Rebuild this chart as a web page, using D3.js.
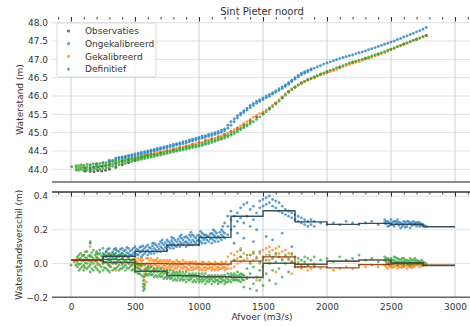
<!DOCTYPE html>
<html><head><meta charset="utf-8">
<script src="https://cdn.jsdelivr.net/npm/d3@7"></script>
<style>
body{margin:0;background:#fff}
svg{display:block}
text{font-family:"DejaVu Sans",sans-serif;fill:#333}
</style>
</head><body>
<svg id="c" width="470" height="326"></svg>
<script>
// ---------------- DATA ----------------
const titleText = "Sint Pieter noord";
const seriesNames = ["Observaties","Ongekalibreerd","Gekalibreerd","Definitief"];
const seriesColors = ["#333333","#1f77b4","#ff7f0e","#2ca02c"];
const xTicks = [0,500,1000,1500,2000,2500,3000];
const yTicksUp = [44.0,44.5,45.0,45.5,46.0,46.5,47.0,47.5,48.0];
const yTicksLow = [-0.2,0.0,0.2,0.4];
const xLabel = "Afvoer (m3/s)";
const yLabelUp = "Waterstand (m)";
const yLabelLow = "Waterstandsverschil (m)";

// Upper panel: rows [afvoer, waterstand values...]
const obsUp = [[110,43.95,44.03],[150,43.94,44.02],[180,43.93,44.05],[210,43.96,44.06],[240,43.95,44.08],[270,43.97,44.1],[300,44.0,44.12],[350,44.05,44.17],[400,44.12,44.22],[450,44.18,44.26],[500,44.24,44.3],[550,44.34],[600,44.38],[650,44.42],[700,44.46],[750,44.51],[800,44.55],[850,44.59],[900,44.63],[950,44.68],[1000,44.73],[1050,44.78],[1100,44.83],[1150,44.88],[1200,44.95],[1250,45.03],[1300,45.12],[1350,45.22],[1400,45.33],[1450,45.43],[1500,45.53],[1550,45.66],[1600,45.8],[1650,45.96],[1700,46.12],[1750,46.24],[1800,46.35],[1850,46.44],[1900,46.51],[1950,46.59],[2000,46.65],[2100,46.78],[2200,46.91],[2300,47.02],[2400,47.14],[2500,47.27],[2600,47.41],[2700,47.54],[2775,47.65]];

const ongUp = [[150,44.12],[200,44.15],[250,44.18],[300,44.21,44.25],[350,44.26,44.3],[400,44.3,44.34],[450,44.34,44.38],[500,44.37,44.42],[550,44.41,44.46],[600,44.45,44.5],[650,44.5,44.54],[700,44.55,44.59],[750,44.59,44.63],[800,44.63,44.68],[850,44.68,44.72],[900,44.72,44.77],[950,44.77,44.82],[1000,44.82,44.87],[1050,44.87,44.92],[1100,44.92,44.97],[1150,44.98,45.03],[1200,45.05,45.1],[1250,45.2,45.3],[1300,45.4,45.46],[1350,45.55,45.6],[1400,45.68,45.74],[1450,45.8,45.86],[1500,45.9,45.95],[1550,45.99,46.04],[1600,46.1,46.14],[1650,46.2,46.25],[1700,46.32,46.36],[1750,46.46,46.5],[1800,46.58,46.62],[1850,46.66,46.7],[1900,46.76],[1925,46.8],[1950,46.83],[1975,46.87],[2000,46.9],[2025,46.93],[2050,46.96],[2075,46.99],[2100,47.02],[2125,47.05],[2150,47.07],[2175,47.1],[2200,47.12],[2225,47.15],[2250,47.18],[2275,47.2],[2300,47.23],[2325,47.26],[2350,47.29],[2375,47.32],[2400,47.35],[2425,47.38],[2450,47.41],[2475,47.44],[2500,47.47],[2525,47.5],[2550,47.54],[2575,47.57],[2600,47.61],[2625,47.64],[2650,47.68],[2675,47.71],[2700,47.75],[2725,47.78],[2750,47.82],[2775,47.87],
 [325,44.24],[375,44.28,44.32],[425,44.32,44.36],[475,44.36,44.4],[525,44.39,44.44],[575,44.43,44.48],[625,44.48,44.52],[675,44.52,44.57],[725,44.57,44.61],[775,44.61,44.66],[825,44.66,44.7],[875,44.7,44.75],[925,44.75,44.8],[975,44.8,44.85],[1025,44.85,44.9],[1075,44.9,44.95],[1125,44.95,45.0],[1175,45.01,45.07],[1225,45.12,45.2],[1275,45.3,45.38],[1325,45.48,45.53],[1375,45.62,45.67],[1425,45.74,45.8],[1475,45.85,45.9],[1525,45.95,46.0],[1575,46.05,46.09],[1625,46.15,46.2],[1675,46.26,46.3],[1725,46.39,46.43],[1775,46.52,46.56],[1825,46.62,46.66],[1875,46.71,46.74]];

const gekUp = [[100,44.06],[200,44.1],[300,44.15],[400,44.22],[500,44.3],[550,44.35],[600,44.39],[650,44.43],[700,44.47],[750,44.51],[800,44.55],[850,44.59],[900,44.63],[950,44.68],[1000,44.72],[1050,44.77],[1100,44.83],[1150,44.88],[1200,44.95],[1250,45.03],[1300,45.13],[1350,45.25],[1400,45.36],[1450,45.47],[1500,45.57],[1550,45.68],[1600,45.82],[1650,45.98],[1700,46.14],[1750,46.25],[1800,46.34],[1850,46.43],[1900,46.5],[1950,46.57],[2000,46.63],[2050,46.69],[2100,46.76],[2150,46.83],[2200,46.89],[2250,46.94],[2300,47.0],[2350,47.06],[2400,47.12],[2450,47.18],[2500,47.27],[2550,47.34],[2600,47.41],[2650,47.48],[2700,47.55],[2750,47.61],[2775,47.65],
 [525,44.32],[575,44.37],[625,44.41],[675,44.45],[725,44.49],[775,44.53],[825,44.57],[875,44.61],[925,44.65],[975,44.7],[1025,44.74],[1075,44.8],[1125,44.85],[1175,44.91],[1225,44.99],[1275,45.08],[1325,45.19],[1375,45.3],[1425,45.42],[1475,45.52],[1525,45.62],[1575,45.75],[1625,45.9],[1675,46.06],[1725,46.2],[1775,46.3],[1825,46.39],[1875,46.47],[1925,46.54],[1975,46.6],[2025,46.66],[2075,46.72],[2125,46.8],[2175,46.86],[2225,46.92],[2275,46.97],[2325,47.03],[2375,47.09],[2425,47.15],[2475,47.22],[2525,47.3],[2575,47.37],[2625,47.44],[2675,47.51],[2725,47.58]];

const defUp = [[5,44.07],[40,43.98,44.05,44.1],[60,43.97,44.03,44.1],[80,43.99,44.05,44.12],[100,43.96,44.04,44.11],[125,43.98,44.06,44.13],[150,43.97,44.05,44.12],[175,43.99,44.07,44.15],[200,44.0,44.08,44.14],[225,44.01,44.09,44.16],[250,44.02,44.1,44.17],[275,44.04,44.11,44.18],[300,44.06,44.13,44.19],[325,44.08,44.14,44.21],[350,44.1,44.16,44.22],[375,44.12,44.18,44.23],[400,44.14,44.2,44.25],[425,44.16,44.22,44.27],[450,44.19,44.24,44.28],[475,44.21,44.26,44.3],[500,44.23,44.27,44.31],[525,44.25,44.29,44.33],[550,44.27,44.31,44.35],[575,44.29,44.33,44.37],[600,44.31,44.35,44.39],[625,44.33,44.37,44.41],[650,44.35,44.39],[675,44.37,44.41],[700,44.39,44.43],[725,44.41,44.45],[750,44.43,44.47],[775,44.45,44.49],[800,44.47,44.51],[825,44.49,44.53],[850,44.51,44.55],[875,44.53,44.57],[900,44.55,44.59],[925,44.57,44.61],[950,44.59,44.63],[975,44.61,44.65],[1000,44.63,44.67],[1025,44.65,44.7],[1050,44.68,44.72],[1075,44.7,44.75],[1100,44.73,44.78],[1125,44.76,44.8],[1150,44.79,44.83],[1175,44.82,44.86],[1200,44.85,44.9],[1225,44.89,44.93],[1250,44.93,44.97],[1275,44.97,45.02],[1300,45.02,45.07],[1325,45.08,45.12],[1350,45.13,45.17],[1375,45.18,45.22],[1400,45.24,45.28],[1425,45.3],[1450,45.36],[1475,45.43],[1500,45.5],[1525,45.57],[1550,45.64],[1575,45.71],[1600,45.78],[1625,45.86],[1650,45.94],[1675,46.02],[1700,46.1],[1725,46.17],[1750,46.24],[1775,46.3],[1800,46.36],[1825,46.4],[1850,46.44],[1875,46.48],[1900,46.52],[1925,46.56],[1950,46.6],[1975,46.63],[2000,46.67],[2025,46.7],[2050,46.73],[2075,46.77],[2100,46.8],[2125,46.83],[2150,46.87],[2175,46.9],[2200,46.93],[2225,46.95],[2250,46.98],[2275,47.0],[2300,47.03],[2325,47.06],[2350,47.09],[2375,47.12],[2400,47.15],[2425,47.18],[2450,47.21],[2475,47.25],[2500,47.28],[2525,47.31],[2550,47.35],[2575,47.38],[2600,47.42],[2625,47.45],[2650,47.48],[2675,47.52],[2700,47.55],[2725,47.58],[2750,47.62],[2775,47.65]];

// Lower panel: rows [afvoer, verschil values...]
const ongDiff = [[150,0.12],[200,0.06],[225,0.08],[250,0.03,0.06],[275,0.04,0.07],[300,0.03,0.06,0.09],[325,0.04,0.07],[350,0.03,0.06,0.09],[375,0.04,0.07],[400,0.03,0.06,0.09],[425,0.05,0.08],[450,0.04,0.06,0.09],[475,0.05,0.08],[500,0.04,0.07,0.1],[525,0.05,0.08],[550,0.04,0.07,0.1],[575,0.06,0.09],[600,0.05,0.08,0.11],[625,0.06,0.09],[650,0.06,0.09,0.12],[675,0.07,0.1],[700,0.07,0.1,0.13],[725,0.08,0.11],[750,0.08,0.11,0.14],[775,0.09,0.12],[800,0.09,0.12,0.15],[825,0.1,0.13],[850,0.1,0.13,0.16],[875,0.11,0.14],[900,0.1,0.13,0.16],[925,0.11,0.14,0.17],[950,0.11,0.14,0.17],[975,0.12,0.15],[1000,0.11,0.14,0.17],[1025,0.12,0.15,0.18],[1050,0.12,0.15,0.17],[1075,0.13,0.16],[1100,0.12,0.15,0.18],[1125,0.13,0.16,0.19],[1150,0.13,0.16],[1175,0.14,0.17,0.2],[1200,0.15,0.18,0.24],[1225,0.17,0.22,0.28],[1250,0.2,0.26,0.31],[1275,0.22,0.28,0.12],[1300,0.25,0.3,0.18],[1325,0.27,0.33,0.08],[1350,0.24,0.35,0.15],[1375,0.28,0.36],[1400,0.22,0.32,0.05],[1425,0.26,0.34,0.13],[1450,0.3,0.2],[1475,0.33,0.37,0.07],[1500,0.34,0.38],[1525,0.35,0.39,0.16],[1550,0.36,0.4],[1575,0.34,0.38,0.14],[1600,0.33,0.37],[1625,0.31,0.36],[1650,0.3,0.34,0.18],[1675,0.29,0.32],[1700,0.28,0.31],[1725,0.27,0.3,0.1],[1750,0.26,0.29],[1775,0.25,0.28],[1800,0.24,0.27],[1825,0.23,0.26],[1850,0.22,0.25],[1875,0.23,0.26],[1900,0.22,0.25],[1950,0.24],[2000,0.23],[2050,0.24],[2100,0.23],[2150,0.25],[2200,0.24],[2250,0.23],[2300,0.24],[2350,0.25],[2400,0.23],[2450,0.24,0.26],[2475,0.22,0.25],[2500,0.23,0.26],[2525,0.22,0.25],[2550,0.24,0.26],[2575,0.21,0.24],[2600,0.23,0.25],[2625,0.22,0.25],[2650,0.21,0.24],[2675,0.23,0.25],[2700,0.22,0.24],[2725,0.22,0.24],[2750,0.23],[2775,0.22],
 [262,0.045],[287,0.055,0.085],[312,0.05],[337,0.055,0.085],[362,0.045,0.075],[387,0.055,0.085],[412,0.045,0.075],[437,0.065,0.095],[462,0.05,0.075],[487,0.06,0.09],
 [512,0.055,0.085],[537,0.065,0.095],[562,0.05,0.08,0.105],[587,0.07,0.1],[612,0.065,0.095],[637,0.075,0.105,0.12],[662,0.08,0.11],[687,0.085,0.115],[712,0.09,0.12,0.14],[737,0.095,0.125],[762,0.1,0.13],[787,0.105,0.135,0.155],[812,0.105,0.14],[837,0.115,0.145],[862,0.12,0.15,0.17],[887,0.125,0.155],[912,0.12,0.15],[937,0.125,0.16,0.185],[962,0.13,0.16],[987,0.135,0.165],[1012,0.13,0.16,0.19],[1037,0.14,0.17],[1062,0.14,0.165],[1087,0.145,0.175],[1112,0.14,0.17,0.2],[1137,0.15,0.18],[1162,0.15,0.185],[1187,0.16,0.19,0.22],
 [2462,0.235,0.25],[2487,0.24,0.225],[2512,0.245,0.23],[2537,0.235,0.25],[2562,0.225,0.245],[2587,0.235,0.22],[2612,0.24,0.215],[2637,0.235,0.25],[2662,0.225,0.24],[2687,0.24,0.23],[2712,0.23,0.245],[2737,0.235,0.225],[2762,0.225]];

const gekDiff = [[50,0.0,0.03],[100,-0.02,0.02,0.05],[150,0.0,0.04,0.1],[200,-0.01,0.03,0.06],[250,0.01,0.04],[300,-0.02,0.02,0.06],[350,-0.04,0.0,0.04],[400,-0.01,0.03],[450,0.0,0.04],[475,-0.01,0.02],[500,-0.02,0.01,0.03],[525,-0.02,0.0,0.03],[550,-0.02,0.01,0.03],[575,-0.12,-0.1,-0.08,-0.06,-0.03],[590,-0.11,-0.07,-0.04,0.0,0.03],[600,-0.02,0.0,0.03],[625,-0.02,0.0,0.03],[650,-0.03,0.0,0.02],[675,-0.02,0.01,0.03],[700,-0.03,0.0,0.02],[725,-0.03,-0.01,0.02],[750,-0.03,0.0,0.02],[775,-0.03,-0.01,0.02],[800,-0.04,-0.01,0.01],[825,-0.03,-0.01,0.02],[850,-0.04,-0.01,0.01],[875,-0.03,-0.01,0.02],[900,-0.04,-0.02,0.01],[925,-0.04,-0.01,0.01],[950,-0.04,-0.02,0.01],[975,-0.03,-0.01,0.01],[1000,-0.04,-0.02,0.0],[1025,-0.04,-0.01,0.01],[1050,-0.04,-0.02,0.0],[1075,-0.03,-0.01,0.01],[1100,-0.04,-0.02,0.0],[1125,-0.04,-0.01,0.01],[1150,-0.04,-0.02,0.0],[1175,-0.03,-0.01,0.01],[1200,-0.04,-0.02,0.0],[1225,-0.03,-0.01,0.04],[1250,-0.03,0.0,0.06],[1275,-0.02,0.02,0.05],[1300,0.0,0.03,0.07],[1325,0.01,0.04,0.09],[1350,0.02,0.06],[1375,-0.08,0.03],[1400,0.01,0.05],[1425,0.02,0.07],[1450,-0.1,0.04],[1475,0.0,0.06],[1500,0.03,0.08],[1525,0.05,0.09],[1550,0.02,0.07,0.1],[1575,0.04,0.08],[1600,-0.05,0.05,0.09],[1625,0.06,0.1],[1650,0.03,0.07],[1675,0.04,0.08],[1700,0.02,0.06],[1725,-0.06,0.01,0.05],[1750,-0.02,0.0,0.04],[1775,-0.02,0.01],[1800,-0.03,-0.01],[1825,-0.02,0.0],[1850,-0.04,-0.01],[1875,-0.03],[1900,-0.02,0.0],[1950,-0.03],[2000,-0.02],[2050,-0.04],[2100,-0.03],[2150,-0.02],[2200,-0.03],[2250,-0.01],[2300,-0.02],[2350,-0.01],[2400,-0.02],[2450,-0.01],[2475,-0.03,0.0],[2500,-0.02,0.0],[2525,-0.02,0.0],[2550,-0.03,-0.01],[2575,-0.02,0.0],[2600,-0.02,0.0],[2625,-0.03,-0.01],[2650,-0.02,0.0],[2675,-0.02,-0.01],[2700,-0.01,0.0],[2725,-0.02,0.0],[2750,-0.01],[2775,-0.01],
 [512,-0.01,0.015],[537,-0.01,0.02],[562,-0.005,0.02],[612,-0.01,0.015],[637,-0.015,0.015],[662,-0.01,0.02],[687,-0.015,0.01],[712,-0.02,0.01],[737,-0.015,0.01],[762,-0.02,0.01],[787,-0.02,0.005],[812,-0.025,0.005],[837,-0.02,0.01],[862,-0.025,0.0],[887,-0.02,0.005],[912,-0.03,0.0],[937,-0.025,0.005],[962,-0.03,0.0],[987,-0.025,-0.005],[1012,-0.03,0.0],[1037,-0.025,0.005],[1062,-0.03,-0.005],[1087,-0.025,0.0],[1112,-0.03,-0.005],[1137,-0.025,0.0],[1162,-0.03,-0.005],[1187,-0.025,0.0],[1212,-0.03,0.01],
 [2462,-0.02,-0.005],[2487,-0.015,0.005],[2512,-0.01,-0.025],[2537,-0.015,0.005],[2562,-0.02,-0.005],[2587,-0.01,-0.025],[2612,-0.015,0.005],[2637,-0.02,-0.005],[2662,-0.01,-0.025],[2687,-0.015,0.0],[2712,-0.01],[2737,-0.015],[2762,-0.01]];

const defDiff = [[0,-0.01],[25,0.01],[50,-0.02,0.01,0.04],[75,-0.03,0.0,0.03,0.06],[100,-0.04,-0.01,0.02,0.05],[125,-0.03,0.0,0.03,0.07],[150,-0.05,-0.01,0.02,0.05,0.13],[175,-0.04,0.0,0.03,0.08],[200,-0.03,0.01,0.04,0.07],[225,-0.05,-0.01,0.02,0.06],[250,-0.04,0.0,0.03,0.09],[275,-0.03,0.01,0.04,0.07],[300,-0.05,-0.01,0.02,0.05],[325,-0.04,0.0,0.03,0.06],[350,-0.03,0.0,0.03,0.08],[375,-0.04,-0.01,0.02,0.05],[400,-0.03,0.0,0.03,0.06],[425,-0.04,-0.01,0.02,0.05],[450,-0.03,0.0,0.03],[475,-0.04,-0.01,0.02],[500,-0.05,-0.02,0.01],[525,-0.06,-0.03,0.0],[550,-0.07,-0.04,-0.01],[565,-0.16,-0.14,-0.12,-0.1,-0.08],[575,-0.15,-0.13,-0.07,-0.04,-0.01],[600,-0.07,-0.04,-0.02],[625,-0.07,-0.05,-0.02],[650,-0.08,-0.05,-0.03],[675,-0.08,-0.05,-0.03],[700,-0.08,-0.06,-0.03],[725,-0.09,-0.06,-0.04],[750,-0.09,-0.06,-0.04],[775,-0.09,-0.07,-0.04],[800,-0.1,-0.07,-0.05],[825,-0.1,-0.07,-0.05],[850,-0.1,-0.07,-0.05],[875,-0.1,-0.08,-0.05],[900,-0.11,-0.08,-0.05],[925,-0.1,-0.08,-0.06],[950,-0.11,-0.08,-0.06],[975,-0.11,-0.08,-0.06],[1000,-0.11,-0.09,-0.06],[1025,-0.11,-0.09,-0.06],[1050,-0.12,-0.09,-0.06],[1075,-0.11,-0.09,-0.07],[1100,-0.12,-0.09,-0.07],[1125,-0.11,-0.09,-0.07],[1150,-0.12,-0.1,-0.07],[1175,-0.11,-0.09,-0.07],[1200,-0.12,-0.1,-0.07],[1225,-0.11,-0.09,-0.06],[1250,-0.11,-0.08,-0.06],[1275,-0.1,-0.08,-0.06,0.02],[1300,-0.1,-0.08,-0.05],[1325,-0.11,-0.08,-0.06,0.04],[1350,-0.14,-0.1,-0.07],[1375,-0.09,-0.03,0.05],[1400,-0.15,-0.06,0.0],[1425,-0.12,-0.02,0.06],[1450,-0.16,-0.08,0.03],[1475,-0.1,-0.04,0.01],[1500,-0.13,-0.02,0.04],[1525,-0.06,0.02],[1550,-0.1,0.0,0.05],[1575,-0.04,0.03],[1600,-0.12,0.01,0.06],[1625,-0.03,0.04],[1650,-0.08,0.02],[1675,0.0,0.05],[1700,-0.05,0.03],[1725,0.01,0.06],[1750,-0.02,0.04],[1775,0.0,0.03],[1800,-0.02,0.02],[1825,0.01,0.04],[1850,-0.01,0.03],[1875,0.02],[1900,-0.01,0.04],[1950,0.02],[2000,0.03],[2050,0.01],[2100,0.04],[2150,0.02],[2200,0.03],[2250,0.05],[2300,0.02],[2350,0.03],[2400,0.01],[2450,0.02,0.04],[2475,0.0,0.03],[2500,0.01,0.03],[2525,0.0,0.02,0.04],[2550,-0.01,0.01,0.03],[2575,0.0,0.02],[2600,-0.01,0.01,0.03],[2625,0.0,0.02],[2650,-0.01,0.01,0.03],[2675,0.0,0.02],[2700,0.0,0.02],[2725,0.0,0.01],[2750,-0.01,0.01],[2775,0.0],
 [37,-0.01,0.02],[62,-0.04,-0.005,0.025,0.05],[87,-0.02,0.015,0.045],[112,-0.025,0.005,0.035,0.07],[137,-0.02,0.015,0.045],[162,-0.03,0.01,0.04,0.065],[187,-0.02,0.015,0.05],[212,-0.04,0.0,0.03,0.055],[237,-0.02,0.015,0.045],[262,-0.025,0.01,0.055],[287,-0.04,-0.005,0.025],[312,-0.02,0.015,0.045],[337,-0.03,0.01,0.05],[362,-0.02,0.015,0.04],[387,-0.03,0.01,0.045],[412,-0.02,0.015,0.04],[437,-0.025,0.01,0.04],[462,-0.02,0.015],[487,-0.035,0.0,0.025],[512,-0.05,-0.025,0.0],[537,-0.06,-0.035,-0.01],[587,-0.06,-0.03],[612,-0.06,-0.03],[637,-0.065,-0.04],[662,-0.07,-0.04],[687,-0.07,-0.045],[712,-0.075,-0.05],[737,-0.08,-0.05],[762,-0.08,-0.055],[787,-0.085,-0.06],[812,-0.09,-0.06],[837,-0.085,-0.06],[862,-0.09,-0.065],[887,-0.095,-0.065],[912,-0.095,-0.07],[937,-0.09,-0.07],[962,-0.1,-0.07],[987,-0.095,-0.075],[1012,-0.1,-0.075],[1037,-0.1,-0.075],[1062,-0.105,-0.08],[1087,-0.1,-0.08],[1112,-0.105,-0.08],[1137,-0.1,-0.08],[1162,-0.11,-0.085],[1187,-0.1,-0.08],[1212,-0.11,-0.085],[1237,-0.1,-0.075],[1262,-0.095,-0.07],[1287,-0.095,-0.07],[1312,-0.1,-0.07],[1337,-0.095,-0.065],
 [2462,0.01,0.03],[2487,0.015,-0.005],[2512,0.02,0.0],[2537,0.01,0.035],[2562,0.005,0.025],[2587,0.01,0.03],[2612,0.005,0.02],[2637,0.015,-0.005],[2662,0.02,0.0],[2687,0.01,0.03],[2712,0.005,0.015],[2737,0.0,0.02],[2762,0.005]];

// Binned mean differences (step lines)
const stepEdges = [0,250,500,750,1000,1250,1500,1750,2000,2250,2500,2750,3000];
const ongStep = [0.02,0.043,0.072,0.11,0.155,0.28,0.313,0.247,0.232,0.238,0.232,0.218];
const gekStep = [0.018,0.024,0.0,-0.002,-0.004,0.014,0.04,-0.02,-0.026,-0.006,0.0,-0.011];
const defStep = [0.02,0.006,-0.046,-0.072,-0.078,-0.082,0.002,-0.004,0.014,0.021,0.004,-0.011];

// ---------------- DRAW ----------------
const svg = d3.select("#c");
const X0=52, X1=470, UT=17, UB=182, LT=192, LB=297.3;
const x = d3.scaleLinear().domain([0,3000]).range([71,455]);
const yU = d3.scaleLinear().domain([44,48]).range([169.3,22.7]);
const yL = d3.scaleLinear().domain([-0.2,0.4]).range([297.3,196]);
const flat = rows => rows.flatMap(r => r.slice(1).map(v => ({q:r[0], v})));

const defs = svg.append("defs");
defs.append("clipPath").attr("id","cu").append("rect").attr("x",X0).attr("y",UT).attr("width",X1-X0).attr("height",UB-UT);
defs.append("clipPath").attr("id","cl").append("rect").attr("x",X0).attr("y",LT).attr("width",X1-X0).attr("height",LB-LT);

function grid(yScale, yTicks, top, bottom){
  const g = svg.append("g");
  g.selectAll(".h").data(yTicks).join("line")
    .attr("x1",X0).attr("x2",X1).attr("y1",d=>yScale(d)).attr("y2",d=>yScale(d))
    .attr("stroke","#e3e3e3").attr("stroke-width",1);
  g.selectAll(".v").data(xTicks).join("line")
    .attr("x1",d=>x(d)).attr("x2",d=>x(d)).attr("y1",top).attr("y2",bottom)
    .attr("stroke","#cfcfcf").attr("stroke-width",1);
}
grid(yU, yTicksUp, UT, UB);
grid(yL, yTicksLow, LT, LB);

// Upper scatter
const gu = svg.append("g").attr("clip-path","url(#cu)");
[obsUp, ongUp, gekUp, defUp].forEach((rows,i)=>{
  gu.append("g").selectAll("circle").data(flat(rows)).join("circle")
    .attr("cx",d=>x(d.q)).attr("cy",d=>yU(d.v)).attr("r",1.45)
    .attr("fill",seriesColors[i]).attr("fill-opacity",0.75);
});

// Lower scatter
const gl = svg.append("g").attr("clip-path","url(#cl)");
[ongDiff, gekDiff, defDiff].forEach((rows,i)=>{
  gl.append("g").selectAll("circle").data(flat(rows)).join("circle")
    .attr("cx",d=>x(d.q)).attr("cy",d=>yL(d.v)).attr("r",1.4)
    .attr("fill",seriesColors[i+1]).attr("fill-opacity",0.7);
});

// Step lines
const stepLine = d3.line().curve(d3.curveStepAfter).x(d=>x(d[0])).y(d=>yL(d[1]));
function stepPts(vals){ const p = vals.map((v,i)=>[stepEdges[i],v]); p.push([stepEdges[stepEdges.length-1], vals[vals.length-1]]); return p; }
[[ongStep,"#223c50",1.4],[defStep,"#3e473e",1.6],[gekStep,"#8a3b0c",1.2]].forEach(([vals,col,w])=>{
  gl.append("path").attr("d",stepLine(stepPts(vals))).attr("fill","none")
    .attr("stroke",col).attr("stroke-width",w).attr("stroke-opacity",0.9);
});

// Frame lines
svg.append("line").attr("x1",X0).attr("x2",X1).attr("y1",UB).attr("y2",UB).attr("stroke","#666").attr("stroke-width",1.4);
svg.append("line").attr("x1",X0).attr("x2",X1).attr("y1",LT).attr("y2",LT).attr("stroke","#333").attr("stroke-width",1.3);
svg.append("line").attr("x1",X0).attr("x2",X1).attr("y1",LB).attr("y2",LB).attr("stroke","#666").attr("stroke-width",1.4);

// Top ticks (inward)
const minor = d3.range(-100,3200,100).filter(d=>x(d)>=X0 && x(d)<=X1);
[UT, LT].forEach(yy=>{
  const g = svg.append("g").attr("transform",`translate(0,${yy})`)
    .call(d3.axisBottom(x).tickValues(minor).tickSize(2.5).tickFormat(""));
  g.select(".domain").remove();
  g.selectAll("line").attr("stroke","#444");
  const g2 = svg.append("g").attr("transform",`translate(0,${yy})`)
    .call(d3.axisBottom(x).tickValues(xTicks).tickSize(4.5).tickFormat(""));
  g2.select(".domain").remove();
  g2.selectAll("line").attr("stroke","#333");
});

function styleAxis(g){
  g.select(".domain").remove();
  g.selectAll("text").attr("font-family","DejaVu Sans, sans-serif").attr("font-size",9).attr("fill","#333");
}
svg.append("g").attr("transform",`translate(${X0},0)`)
  .call(d3.axisLeft(yU).tickValues(yTicksUp).tickFormat(d3.format(".1f")).tickSize(0).tickPadding(4)).call(styleAxis);
svg.append("g").attr("transform",`translate(${X0},0)`)
  .call(d3.axisLeft(yL).tickValues(yTicksLow).tickFormat(d3.format(".1f")).tickSize(0).tickPadding(4)).call(styleAxis);
svg.append("g").attr("transform",`translate(0,${LB})`)
  .call(d3.axisBottom(x).tickValues(xTicks).tickFormat(d3.format("d")).tickSize(0).tickPadding(6)).call(styleAxis);

// Labels
svg.append("text").attr("x",262).attr("y",15).attr("text-anchor","middle").attr("font-size",10).text(titleText);
svg.append("text").attr("x",262).attr("y",320).attr("text-anchor","middle").attr("font-size",9).text(xLabel);
svg.append("text").attr("transform",`translate(23,${(UT+UB)/2}) rotate(-90)`).attr("text-anchor","middle").attr("font-size",9).text(yLabelUp);
svg.append("text").attr("transform",`translate(22,${(LT+LB)/2}) rotate(-90)`).attr("text-anchor","middle").attr("font-size",9).text(yLabelLow);

// Legend
const lg = svg.append("g");
lg.append("rect").attr("x",57).attr("y",23).attr("width",99).attr("height",54).attr("rx",2)
  .attr("fill","#fff").attr("fill-opacity",0.85).attr("stroke","#d0d0d0").attr("stroke-width",0.8);
seriesNames.forEach((n,i)=>{
  const cy = 31 + i*12.7;
  lg.append("circle").attr("cx",68.5).attr("cy",cy).attr("r",1.6).attr("fill",seriesColors[i]).attr("fill-opacity",0.7);
  lg.append("text").attr("x",85).attr("y",cy+3.2).attr("font-size",9).text(n);
});
</script>
</body></html>
